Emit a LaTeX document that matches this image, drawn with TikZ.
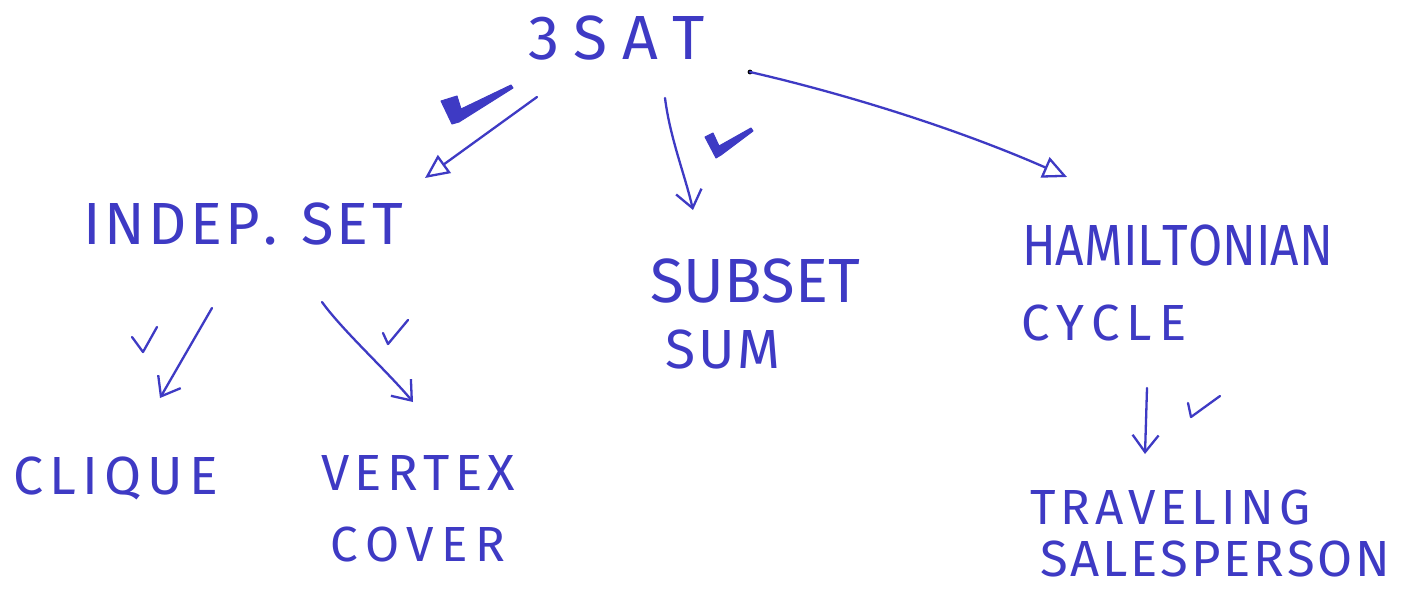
\documentclass[tikz,border=0pt]{standalone}
\usepackage{fontspec}
\usepackage{graphicx}
\IfFontExistsTF{FiraSans-ExtraLight.otf}{\setmainfont{FiraSans-ExtraLight.otf}}{%
  \IfFontExistsTF{FiraSans-Light.otf}{\setmainfont{FiraSans-Light.otf}}{\setmainfont{Fira Sans}}}
\usetikzlibrary{arrows.meta}
\definecolor{ink}{RGB}{62,58,196}

% letter gap inside a spread word
\newcommand\gp{\hfil}
% font size from cap height (in pt)
\newcommand\inkfont[1]{\fontsize{\fpeval{#1/0.689}pt}{\fpeval{#1/0.689}pt}\selectfont}
% spread letters over a given width, squeezing if the word is too long
\newlength\lblnat
\newcommand\fitword[2]{%
  \settowidth\lblnat{#2}%
  \ifdim\lblnat>#1\relax\resizebox{#1}{\height}{#2}\else\hbox to #1{#2}\fi}

\begin{document}
\begin{tikzpicture}[x=1pt,y=-1pt,
  lbl/.style={inner sep=0pt, text=ink, anchor=base west},
  link/.style={draw=ink, line width=2.3pt, line cap=round, line join=round},
  stick/.style={-{Straight Barb[length=17pt,width=26pt,line width=2.3pt]}},
  opentri/.style={-{Triangle[open,length=24pt,width=22pt,line width=2.3pt]}},
  tick/.style={draw=ink, line width=2.3pt, line cap=round, line join=round},
  boldtick/.style={fill=ink, draw=ink, line width=1pt, line join=round}]

\fill[white] (0,0) rectangle (1404,591);
\useasboundingbox (0,0) rectangle (1404,591);

% problem names
\node[lbl, font=\inkfont{43}] (sat)    at (528,60)  {\fitword{177pt}{3\gp S\gp A\gp T}};
\node[lbl, font=\inkfont{41}] (indep)  at (83,244)  {\fitword{320pt}{I\gp N\gp D\gp E\gp P\gp .\gp\ \gp S\gp E\gp T}};
\node[lbl, font=\inkfont{43}] (subset) at (650,302) {\fitword{210pt}{S\gp U\gp B\gp S\gp E\gp T}};
\node[lbl, font=\inkfont{38}] (sum)    at (665,368) {\fitword{115pt}{S\gp U\gp M}};
\node[lbl, font=\inkfont{40}] (ham)    at (1022,265) {\fitword{311pt}{H\gp A\gp M\gp I\gp L\gp T\gp O\gp N\gp I\gp A\gp N}};
\node[lbl, font=\inkfont{35}] (cycle)  at (1021,340) {\fitword{165pt}{C\gp Y\gp C\gp L\gp E}};
\node[lbl, font=\inkfont{37}] (clique) at (13,494)  {\fitword{205pt}{C\gp L\gp I\gp Q\gp U\gp E}};
\node[lbl, font=\inkfont{35}] (vertex) at (321,490) {\fitword{194pt}{V\gp E\gp R\gp T\gp E\gp X}};
\node[lbl, font=\inkfont{34}] (cover)  at (330,561) {\fitword{175pt}{C\gp O\gp V\gp E\gp R}};
\node[lbl, font=\inkfont{34}] (trav)   at (1030,524) {\fitword{280pt}{T\gp R\gp A\gp V\gp E\gp L\gp I\gp N\gp G}};
\node[lbl, font=\inkfont{35}] (sales)  at (1040,576) {\fitword{350pt}{S\gp A\gp L\gp E\gp S\gp P\gp E\gp R\gp S\gp O\gp N}};

% reductions
\draw[link, opentri] ([shift={(9,37)}]sat.base west) -- ([shift={(342,-66)}]indep.base west);
\draw[link, stick] ([shift={(137,38)}]sat.base west)
  .. controls +(5,40) and +(-8,-35) .. ([shift={(43,-92)}]subset.base west);
\fill[black] ([shift={(222,12)}]sat.base west) circle (2.4);
\draw[link, opentri] ([shift={(222,12)}]sat.base west)
  .. controls +(100,23) and +(-107,-47) .. ([shift={(45,-88)}]ham.base west);
\draw[link, stick] ([shift={(129,64)}]indep.base west) -- ([shift={(147,-96)}]clique.base west);
\draw[link, stick] ([shift={(239,58)}]indep.base west)
  .. controls +(20,28) and +(-25,-30) .. ([shift={(92,-88)}]vertex.base west);
\draw[link, stick] ([shift={(126,48)}]cycle.base west) -- ([shift={(115,-70)}]trav.base west);

% check marks
\fill[boldtick] (441,101) -- (457,96) -- (461,109) -- (511,85) -- (513,88) -- (459,122) -- (452,124) -- cycle;
\fill[boldtick] (705,137) -- (713,133) -- (719,146) -- (751,128) -- (753,131) -- (721,155) -- (716,158) -- cycle;
\draw[tick] (132,337) -- (143,352) -- (157,327);
\draw[tick] (383,333) -- (388,344) -- (408,320);
\draw[tick] (1188,403) -- (1191,417) -- (1220,396);
\end{tikzpicture}
\end{document}
